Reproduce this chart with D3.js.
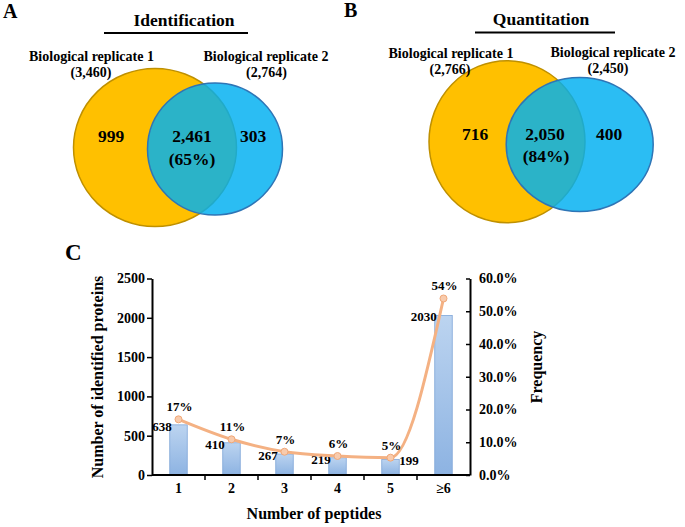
<!DOCTYPE html>
<html>
<head>
<meta charset="utf-8">
<script src="https://cdn.jsdelivr.net/npm/d3@7"></script>
<style>
  body { margin: 0; background: #fff; }
  svg { display: block; font-family: "Liberation Serif", "Times New Roman", serif; font-weight: bold; }
</style>
</head>
<body>
<div id="canvas"></div>
<script>
// ---- Venn data (A: identification, B: quantitation)
const vennTitles = ["Identification", "Quantitation"];
const repNames = ["Biological replicate 1", "Biological replicate 2"];
const rep1Totals = ["3,460", "2,766"];
const rep2Totals = ["2,764", "2,450"];
const onlyRep1 = ["999", "716"];
const sharedCounts = ["2,461", "2,050"];
const sharedPct = ["(65%)", "(84%)"];
const onlyRep2 = ["303", "400"];

// ---- Panel C data
const peptideCats = ["1", "2", "3", "4", "5", "\u22656"];
const proteinCounts = [638, 410, 267, 219, 199, 2030];
const frequency = [17.0, 10.9, 7.1, 5.8, 5.3, 53.9];
const freqLabels = ["17%", "11%", "7%", "6%", "5%", "54%"];
const countTicks = [0, 500, 1000, 1500, 2000, 2500];
const freqTicks = [0, 10, 20, 30, 40, 50, 60];

const width = 685;
const height = 527;

const svg = d3.select("#canvas").append("svg")
    .attr("width", width)
    .attr("height", height);

const defs = svg.append("defs");
const grad = defs.append("linearGradient")
    .attr("id", "barGrad")
    .attr("x1", 0).attr("y1", 0).attr("x2", 0).attr("y2", 1);
grad.append("stop").attr("offset", "0%").attr("stop-color", "#bcd4f0");
grad.append("stop").attr("offset", "100%").attr("stop-color", "#8db3e2");

// panel letters
svg.append("text").attr("x", 3).attr("y", 18).style("font-size", "20px").text("A");
svg.append("text").attr("x", 344).attr("y", 17).style("font-size", "20px").text("B");
svg.append("text").attr("x", 65).attr("y", 260).style("font-size", "23px").text("C");

// ---- Venn panels
const vennLayout = [
  { title: [184, 26], line: [104, 248, 33],
    c1: [155, 147.5, 81.5, 79], c2: [215, 149, 67.5, 66],
    lab1: [91.5, 61], tot1: [91, 77], lab2: [266, 61], tot2: [266.5, 77],
    only1: [111, 142], shared: [192, 142], pct: [192, 165], only2: [253, 142] },
  { title: [541, 25], line: [475, 615, 32.5],
    c1: [507, 141.7, 78, 81], c2: [579.7, 144.5, 73.5, 67],
    lab1: [451, 57.5], tot1: [450, 74], lab2: [613, 57], tot2: [608, 73],
    only1: [475, 140], shared: [545, 140], pct: [546, 162], only2: [609, 140] }
];

vennLayout.forEach((L, i) => {
  const g = svg.append("g");
  g.append("text").attr("x", L.title[0]).attr("y", L.title[1])
      .attr("text-anchor", "middle").style("font-size", "17.5px").text(vennTitles[i]);
  g.append("line").attr("x1", L.line[0]).attr("x2", L.line[1])
      .attr("y1", L.line[2]).attr("y2", L.line[2])
      .attr("stroke", "#000").attr("stroke-width", 2);

  g.append("ellipse")
      .attr("cx", L.c1[0]).attr("cy", L.c1[1]).attr("rx", L.c1[2]).attr("ry", L.c1[3])
      .attr("fill", "#ffc000").attr("stroke", "#bf9000").attr("stroke-width", 1.5);
  g.append("ellipse")
      .attr("cx", L.c2[0]).attr("cy", L.c2[1]).attr("rx", L.c2[2]).attr("ry", L.c2[3])
      .attr("fill", "#00b0f0").attr("fill-opacity", 0.83)
      .attr("stroke", "#2e75b6").attr("stroke-width", 1.5);

  const small = [[L.lab1, repNames[0]], [L.tot1, "(" + rep1Totals[i] + ")"],
                 [L.lab2, repNames[1]], [L.tot2, "(" + rep2Totals[i] + ")"]];
  small.forEach(([p, t]) => {
    g.append("text").attr("x", p[0]).attr("y", p[1])
        .attr("text-anchor", "middle").style("font-size", "14px").text(t);
  });
  const big = [[L.only1, onlyRep1[i]], [L.shared, sharedCounts[i]],
               [L.pct, sharedPct[i]], [L.only2, onlyRep2[i]]];
  big.forEach(([p, t]) => {
    g.append("text").attr("x", p[0]).attr("y", p[1])
        .attr("text-anchor", "middle").style("font-size", "17.5px").text(t);
  });
});

// ---- Panel C: bars + frequency line
const plotLeft = 152, plotRight = 470, plotTop = 278.5, plotBottom = 475;

const x = d3.scaleBand()
    .domain(peptideCats)
    .range([plotLeft, plotRight])
    .padding(0);

const y = d3.scaleLinear()
    .domain([0, 2500])
    .range([plotBottom, plotTop]);

const y2 = d3.scaleLinear()
    .domain([0, 60])
    .range([plotBottom, plotTop]);

const barW = x.bandwidth() * 0.33;
const cx = d => x(d) + x.bandwidth() / 2;

const gc = svg.append("g");

gc.selectAll("rect.bar")
  .data(peptideCats)
  .enter().append("rect")
    .attr("class", "bar")
    .attr("x", d => cx(d) - barW / 2)
    .attr("y", (d, i) => y(proteinCounts[i]))
    .attr("width", barW)
    .attr("height", (d, i) => plotBottom - y(proteinCounts[i]))
    .attr("fill", "url(#barGrad)")
    .attr("stroke", "#7fa6d8")
    .attr("stroke-width", 0.8);

// count labels (the "5" label sits to the right of its bar)
gc.selectAll("text.cnt")
  .data(peptideCats)
  .enter().append("text")
    .attr("class", "cnt")
    .attr("x", (d, i) => i === 4 ? cx(d) + barW / 2 : cx(d) - barW / 2 + 2)
    .attr("y", (d, i) => y(proteinCounts[i]) + 6)
    .attr("text-anchor", (d, i) => i === 4 ? "start" : "end")
    .style("font-size", "13px")
    .text((d, i) => proteinCounts[i]);

const tickFont = sel => sel.style("font-size", "14px")
    .style("font-family", "Liberation Serif").style("font-weight", "bold");

// left axis
const axL = gc.append("g")
    .attr("transform", `translate(${plotLeft},0)`)
    .call(d3.axisLeft(y).tickValues(countTicks).tickFormat(d3.format("d"))
      .tickSize(5).tickPadding(2).tickSizeOuter(0));
axL.select(".domain").attr("stroke-width", 2);
axL.selectAll(".tick line").attr("stroke-width", 1.5);
axL.selectAll("text").call(tickFont);

// right axis (ticks point inward)
const axR = gc.append("g")
    .attr("transform", `translate(${plotRight},0)`)
    .call(d3.axisRight(y2).tickValues(freqTicks).tickSize(-4).tickPadding(9).tickSizeOuter(0)
      .tickFormat(d => d.toFixed(1) + "%"));
axR.select(".domain").attr("stroke-width", 2);
axR.selectAll(".tick line").attr("stroke-width", 1.5);
axR.selectAll("text").call(tickFont);

// bottom axis: labels at centres, tick marks at band edges
const axB = gc.append("g")
    .attr("transform", `translate(0,${plotBottom})`)
    .call(d3.axisBottom(x).tickSize(0).tickPadding(8));
axB.select(".domain").remove();
axB.selectAll("text").call(tickFont);
gc.append("line").attr("x1", plotLeft).attr("x2", plotRight).attr("y1", plotBottom).attr("y2", plotBottom)
    .attr("stroke", "#000").attr("stroke-width", 2);
gc.selectAll("line.xtick")
  .data(peptideCats.slice(1))
  .enter().append("line")
    .attr("class", "xtick")
    .attr("x1", d => x(d)).attr("x2", d => x(d))
    .attr("y1", plotBottom).attr("y2", plotBottom + 5)
    .attr("stroke", "#000").attr("stroke-width", 1.5);

// frequency line
const line = d3.line()
    .x((d, i) => cx(peptideCats[i]))
    .y(d => y2(d))
    .curve(d3.curveMonotoneX);

gc.append("path")
    .datum(frequency)
    .attr("d", line)
    .attr("fill", "none")
    .attr("stroke", "#f4b183")
    .attr("stroke-width", 3);

gc.selectAll("circle.pt")
  .data(frequency)
  .enter().append("circle")
    .attr("class", "pt")
    .attr("cx", (d, i) => cx(peptideCats[i]))
    .attr("cy", d => y2(d))
    .attr("r", 3.5)
    .attr("fill", "#f8cbad")
    .attr("stroke", "#f0a878")
    .attr("stroke-width", 1);

gc.selectAll("text.pct")
  .data(frequency)
  .enter().append("text")
    .attr("class", "pct")
    .attr("x", (d, i) => cx(peptideCats[i]) + 1)
    .attr("y", d => y2(d) - 8)
    .attr("text-anchor", "middle")
    .style("font-size", "13px")
    .text((d, i) => freqLabels[i]);

// axis titles
svg.append("text")
    .attr("transform", `translate(103,377) rotate(-90)`)
    .attr("text-anchor", "middle")
    .style("font-size", "16px")
    .text("Number of identified proteins");
svg.append("text")
    .attr("transform", `translate(542,367) rotate(-90)`)
    .attr("text-anchor", "middle")
    .style("font-size", "16px")
    .text("Frequency");
svg.append("text")
    .attr("x", 314).attr("y", 519)
    .attr("text-anchor", "middle")
    .style("font-size", "16px")
    .text("Number of peptides");
</script>
</body>
</html>
